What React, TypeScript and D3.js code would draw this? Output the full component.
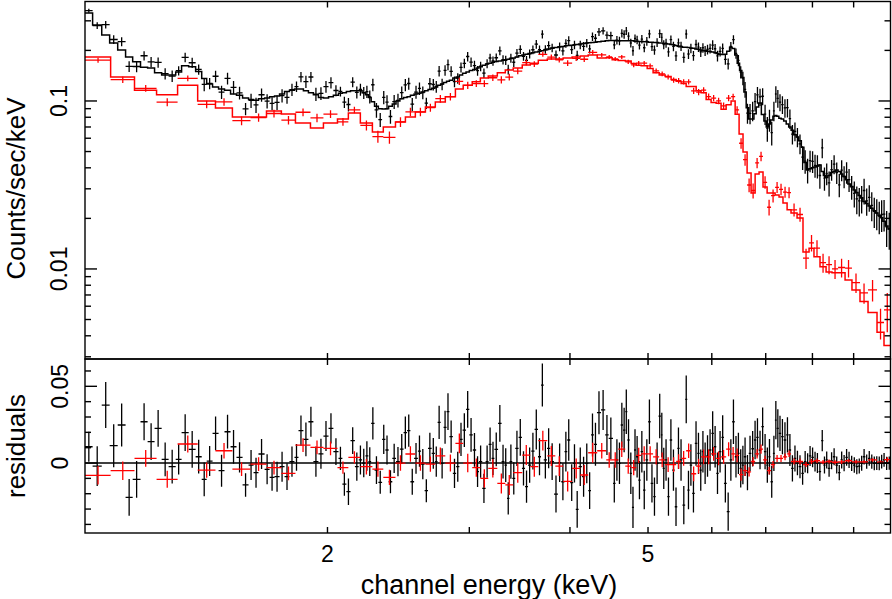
import React, { useEffect, useRef } from 'react';
import * as d3 from 'd3';

// black spectrum: channel bin edges (keV), folded model (counts/sec/keV),
// residuals (data - model) and 1-sigma errors, one value per bin
const blackEdges = [
  1.000, 1.022, 1.049, 1.073, 1.098, 1.123, 1.146, 1.172, 1.196, 1.220, 1.245, 1.270, 1.296, 1.318, 1.345, 1.372,
  1.396, 1.416, 1.440, 1.465, 1.490, 1.516, 1.542, 1.569, 1.596, 1.619, 1.642, 1.671, 1.695, 1.719, 1.744, 1.769,
  1.794, 1.820, 1.841, 1.867, 1.894, 1.921, 1.949, 1.977, 2.006, 2.034, 2.064, 2.087, 2.111, 2.136, 2.163,
  2.187, 2.208, 2.229, 2.248, 2.266, 2.288, 2.313, 2.338, 2.360, 2.382, 2.407, 2.433, 2.460, 2.486, 2.511, 2.535,
  2.562, 2.590, 2.613, 2.640, 2.666, 2.694, 2.719, 2.740, 2.764, 2.787, 2.811, 2.834, 2.862, 2.889, 2.916, 2.943,
  2.972, 3.000, 3.030, 3.059, 3.084, 3.113, 3.143, 3.170, 3.197, 3.223, 3.257, 3.290, 3.317, 3.341, 3.365, 3.392,
  3.421, 3.454, 3.487, 3.518, 3.548, 3.581, 3.615, 3.651, 3.682, 3.711, 3.746, 3.781, 3.822, 3.865, 3.902, 3.938,
  3.969, 4.003, 4.037, 4.067, 4.100, 4.139, 4.179, 4.215, 4.248, 4.284, 4.321, 4.371, 4.424, 4.468,
  4.524, 4.557, 4.592, 4.624, 4.655, 4.685, 4.713, 4.745, 4.775, 4.804, 4.831, 4.862, 4.896, 4.929, 4.964, 5.002,
  5.038, 5.075, 5.111, 5.152, 5.188, 5.214, 5.246, 5.283, 5.319, 5.357, 5.397, 5.436, 5.473, 5.517, 5.560, 5.594,
  5.632, 5.672, 5.715, 5.756, 5.795, 5.832, 5.867, 5.906, 5.948, 5.993, 6.037, 6.077, 6.120, 6.167, 6.212, 6.262,
  6.313, 6.359, 6.407, 6.452, 6.496, 6.538, 6.577, 6.620, 6.668, 6.718, 6.768, 6.812, 6.861, 6.913, 6.964, 7.010,
  7.054, 7.097, 7.145, 7.186, 7.225, 7.268, 7.315, 7.369, 7.422, 7.475, 7.527, 7.583, 7.637, 7.691, 7.750, 7.807,
  7.863, 7.918, 7.974, 8.033, 8.086, 8.143, 8.201, 8.254, 8.306, 8.360, 8.420, 8.481, 8.542, 8.608, 8.668, 8.727,
  8.789, 8.852, 8.914, 8.985, 9.049, 9.114, 9.178, 9.240, 9.306, 9.378, 9.444, 9.513, 9.581, 9.649, 9.718, 9.783,
  9.853, 9.929, 10.000,
];

const blackModel = [
  0.334, 0.283, 0.247, 0.221, 0.201, 0.183, 0.171, 0.159, 0.157, 0.147, 0.143, 0.143, 0.149, 0.162, 0.160, 0.150,
  0.136, 0.126, 0.121, 0.118, 0.116, 0.110, 0.108, 0.104, 0.102, 0.101, 0.103, 0.104, 0.106, 0.107, 0.110, 0.114,
  0.116, 0.118, 0.118, 0.115, 0.112, 0.109, 0.105, 0.104, 0.106, 0.108, 0.111, 0.112, 0.114, 0.115,
  0.115, 0.115, 0.112, 0.109, 0.105, 0.099, 0.093, 0.090, 0.0896, 0.090, 0.093, 0.096, 0.100, 0.103, 0.105, 0.106,
  0.108, 0.110, 0.111, 0.113, 0.115, 0.117, 0.119, 0.121, 0.124, 0.126, 0.129, 0.131, 0.133, 0.137, 0.139, 0.143,
  0.146, 0.149, 0.152, 0.154, 0.157, 0.160, 0.163, 0.166, 0.168, 0.170, 0.172, 0.173, 0.175, 0.176, 0.177, 0.179,
  0.180, 0.183, 0.186, 0.188, 0.190, 0.192, 0.194, 0.196, 0.198, 0.199, 0.201, 0.204, 0.206, 0.208, 0.210, 0.211,
  0.213, 0.214, 0.215, 0.216, 0.217, 0.218, 0.220, 0.221, 0.222, 0.223, 0.224, 0.225, 0.227, 0.228,
  0.229, 0.229, 0.228, 0.228, 0.228, 0.228, 0.228, 0.228, 0.228, 0.228, 0.227, 0.227, 0.226, 0.226, 0.225, 0.225,
  0.224, 0.224, 0.223, 0.223, 0.221, 0.221, 0.220, 0.219, 0.218, 0.217, 0.216, 0.214, 0.212, 0.210, 0.209, 0.209,
  0.208, 0.207, 0.206, 0.204, 0.203, 0.201, 0.200, 0.199, 0.198, 0.197, 0.196, 0.194, 0.192, 0.190, 0.189, 0.190,
  0.198, 0.209, 0.205, 0.188, 0.168, 0.152, 0.138, 0.113, 0.091, 0.078, 0.078, 0.084, 0.092, 0.0973, 0.083, 0.076,
  0.070, 0.073, 0.077, 0.081, 0.082, 0.081, 0.079, 0.078, 0.076, 0.073, 0.070, 0.067, 0.063, 0.061, 0.058, 0.053,
  0.043, 0.039, 0.0395, 0.040, 0.0405, 0.041, 0.0416, 0.038, 0.036, 0.035, 0.036, 0.0375, 0.038, 0.0388, 0.038, 0.0368,
  0.0355, 0.034, 0.032, 0.031, 0.0295, 0.0285, 0.0274, 0.0265, 0.0252, 0.0245, 0.0237, 0.0230, 0.0222, 0.0215, 0.0208, 0.0202,
  0.0192, 0.0180, 0.0173,
];

const blackResid = [
  0.0106, -0.002, 0.0378, 0.0113, 0.0248, -0.0224, -0.0106, 0.0269, 0.0139, 0.0226, 0.0024, -0.0024, 0.0024, 0.0198, 0.0089, 0.0041,
  -0.0106, 0.0013, 0.0193, -0.005, 0.0204, 0.0106, 0.0037, -0.0143, -0.0013, -0.0063, 0.0059, -0.0041, -0.0093, -0.0089, -0.0024, -0.0089,
  0.0009, 0.0037, 0.0211, 0.0154, 0.0269, 0.0009, 0.006, 0.0176, 0.0226, 0.0074, 0.003, -0.0137, -0.0187, 0.0146,
  -0.0024, 0.002, 0, 0.0046, 0.0009, 0.0259, -0.0046, -0.0126, 0.0154, 0.0085, -0.0122, 0.003, 0.0009, 0.0091, 0.0198, 0.0211,
  -0.0122, 0.003, 0.0078, -0.0007, -0.018, 0.0096, 0.0063, 0.0009, 0.0265, -0.0002, 0.0233, 0.0335, 0.0172, -0.0067, -0.0024, 0.0154,
  0.0215, 0.035, 0.0183, 0.0085, -0.0056, 0.0009, -0.0165, 0.0009, 0.0122, 0.003, 0.0089, 0.0259, 0.0009, -0.0013, -0.023, 0.0009,
  -0.01, 0.0096, 0.0167, -0.0035, -0.0154, -0.0013, 0.0078, 0.0219, 0.0041, 0.0508, 0.002, 0.0096, 0.0009, -0.0202, 0.0002, -0.0122,
  0.0074, 0.015, -0.0128, -0.0002, -0.0302, -0.0024, -0.0089, -0.0002, -0.018, 0.0183, 0.0122, 0.0328, 0.0346, 0.0183,
  0.0161, -0.0133, 0.002, -0.0002, 0.0248, 0.0215, 0.0335, 0.015, -0.0067, -0.0289, 0.0085, 0.0041, -0.0111, 0.0074, -0.0176, 0.002,
  0.0269, -0.0133, -0.0219, -0.0002, 0.0306, 0.0183, -0.0035, 0.002, -0.0219, 0.015, -0.0046, -0.0285, 0.0096, 0.002, -0.0274, 0.0415,
  -0.0176, -0.0013, -0.0198, 0.0128, 0.0063, -0.0046, 0.0074, -0.0002, 0.0046, 0.0085, 0.0193, 0.0106, -0.0067, 0.0074, 0.0167, -0.0133,
  -0.0317, 0.002, 0.0269, 0.0041, 0.0063, -0.0035, -0.0013, 0.0041, -0.0063, 0.0063, 0.0093, 0.015, 0.0167, 0.0085, 0.0237, 0.0074,
  -0.0013, 0.0041, -0.0122, 0.0063, 0.028, 0.0226, 0.0193, 0.0172, 0.015, 0.0183, 0.0085, -0.0035, 0.003, 0, -0.0024, -0.0067,
  0.0009, -0.0002, 0.0046, 0.0037, 0.0009, 0, -0.0056, 0.0146, -0.0013, 0.002, -0.0035, 0.0015, 0.0041, -0.0013, -0.0063, 0.002,
  0, 0.0037, 0.002, -0.0002, -0.0013, -0.0024, -0.002, -0.0002, 0.0041, 0.0009, 0.003, 0.0009, -0.0002, 0, -0.0002, 0.0009,
  0.002, -0.0002, 0,
];

const blackErr = [
  0.0098, 0.013, 0.015, 0.014, 0.014, 0.012, 0.012, 0.012, 0.012, 0.012, 0.011, 0.011, 0.0098, 0.012, 0.012, 0.011,
  0.011, 0.0098, 0.011, 0.0104, 0.011, 0.011, 0.0098, 0.0076, 0.0098, 0.0098, 0.0098, 0.0098, 0.0087, 0.0098, 0.0098, 0.0087,
  0.0098, 0.0087, 0.0098, 0.011, 0.0098, 0.0098, 0.0098, 0.0098, 0.0098, 0.0087, 0.0076, 0.0076, 0.0087, 0.0087,
  0.0092, 0.0095, 0.0093, 0.0096, 0.0094, 0.0105, 0.009, 0.0075, 0.0095, 0.0095, 0.0075, 0.0095, 0.0095, 0.0098, 0.0105, 0.0105,
  0.0085, 0.01, 0.0102, 0.0098, 0.0075, 0.0102, 0.01, 0.0098, 0.0108, 0.0098, 0.0108, 0.012, 0.0105, 0.0095, 0.0098, 0.0108,
  0.011, 0.012, 0.011, 0.011, 0.01, 0.0105, 0.0095, 0.0105, 0.011, 0.0108, 0.011, 0.012, 0.011, 0.011, 0.0105, 0.0112,
  0.0105, 0.0115, 0.012, 0.0112, 0.0105, 0.0115, 0.012, 0.013, 0.012, 0.014, 0.012, 0.013, 0.012, 0.012, 0.0125, 0.012,
  0.013, 0.0135, 0.012, 0.0125, 0.012, 0.0125, 0.013, 0.013, 0.012, 0.014, 0.014, 0.014, 0.013, 0.013,
  0.0135, 0.0125, 0.0135, 0.0135, 0.0145, 0.0145, 0.0145, 0.0135, 0.0135, 0.0135, 0.0135, 0.0135, 0.0125, 0.0135, 0.0125, 0.0135,
  0.0145, 0.0125, 0.0125, 0.0135, 0.0145, 0.0145, 0.0135, 0.0135, 0.0125, 0.0135, 0.0135, 0.0125, 0.0135, 0.0135, 0.0125, 0.0155,
  0.0125, 0.0135, 0.0125, 0.0145, 0.0135, 0.0135, 0.0135, 0.0135, 0.0135, 0.0135, 0.0145, 0.0135, 0.0135, 0.0135, 0.0145, 0.0125,
  0.0125, 0.0135, 0.0145, 0.0135, 0.0135, 0.0125, 0.0125, 0.0125, 0.0115, 0.0115, 0.0115, 0.0125, 0.0125, 0.0125, 0.0125, 0.0115,
  0.0115, 0.0115, 0.0105, 0.0115, 0.0125, 0.0125, 0.0115, 0.0115, 0.0115, 0.0115, 0.0105, 0.0085, 0.0085, 0.008, 0.0075, 0.0075,
  0.007, 0.0065, 0.0065, 0.0065, 0.0065, 0.0065, 0.006, 0.007, 0.0055, 0.0055, 0.0055, 0.0055, 0.0055, 0.0055, 0.005, 0.0055,
  0.0053, 0.0055, 0.0053, 0.005, 0.005, 0.0049, 0.0049, 0.0049, 0.0051, 0.0047, 0.0048, 0.0047, 0.0045, 0.0045, 0.0045, 0.0045,
  0.0045, 0.0043, 0.0043,
];

// red spectrum, same layout
const redEdges = [
  1.000, 1.076, 1.152, 1.227, 1.303, 1.380, 1.452, 1.524, 1.605, 1.680, 1.753, 1.825, 1.905, 1.977, 2.058, 2.123,
  2.197, 2.274, 2.346, 2.429, 2.499, 2.571, 2.646, 2.722, 2.801, 2.883, 2.948, 3.025, 3.096, 3.167, 3.250, 3.325,
  3.401, 3.490, 3.571, 3.654, 3.749, 3.836, 3.923, 4.025, 4.119, 4.214, 4.324,
  4.437, 4.513, 4.592, 4.685, 4.765, 4.834, 4.903, 4.988, 5.073, 5.162, 5.251, 5.341, 5.419, 5.496, 5.576, 5.655,
  5.738, 5.819, 5.904, 5.988, 6.075, 6.161, 6.251, 6.340, 6.414, 6.487, 6.560, 6.637, 6.713, 6.791, 6.868, 6.946,
  7.028, 7.107, 7.190, 7.272, 7.354, 7.441, 7.525, 7.656, 7.787, 7.923, 8.035, 8.175, 8.318, 8.460, 8.608, 8.782,
  8.957, 9.165, 9.378, 9.622, 9.816, 10.000,
];

const redModel = [
  0.183, 0.139, 0.116, 0.109, 0.124, 0.100, 0.0908, 0.0803, 0.0803, 0.0872, 0.0837, 0.0740, 0.0691, 0.0740, 0.0781, 0.0848,
  0.0740, 0.0654, 0.0700, 0.0750, 0.0803, 0.0860, 0.0921, 0.0986, 0.106, 0.118, 0.124, 0.130, 0.137, 0.141, 0.147, 0.153,
  0.157, 0.164, 0.168, 0.175, 0.178, 0.178, 0.180, 0.183, 0.185, 0.188,
  0.180, 0.181, 0.176, 0.174, 0.173, 0.167, 0.163, 0.162, 0.156, 0.147, 0.143, 0.140, 0.134, 0.131, 0.127, 0.122,
  0.122, 0.115, 0.112, 0.102, 0.098, 0.097, 0.0894, 0.095, 0.100, 0.0834, 0.0636, 0.0497, 0.0373, 0.0283, 0.0368, 0.0378,
  0.0308, 0.0283, 0.0283, 0.0276, 0.0268, 0.0247, 0.0225, 0.0215, 0.0201, 0.0126, 0.0133, 0.0118, 0.0103, 0.0096, 0.0095, 0.0095,
  0.0086, 0.0075, 0.0064, 0.0055, 0.0042, 0.0035,
];

const redResid = [
  -0.008, -0.005, 0.003, -0.0106, 0.0124, -0.0046, 0.008, -0.004, -0.0007, -0.003, -0.0067, 0.0117, 0.0102, 0.0096, -0.003, 0.0037,
  -0.0024, -0.004, -0.0093, 0, 0.0059, 0, -0.0007, 0.0046, 0, 0.0128, 0, -0.003, -0.010, -0.0035, -0.0133, -0.0143,
  -0.0063, 0.0052, -0.0024, 0.0146, 0.0046, -0.002, -0.012, -0.0035, -0.0078, 0.0067,
  0.008, 0.002, 0.002, 0.009, -0.002, -0.003, 0.005, 0.006, 0.006, 0.004, 0.002, -0.001, -0.001, 0.001, 0.003, 0.008,
  -0.007, -0.002, 0.004, 0.004, 0.006, 0.003, 0.004, 0.009, 0.006, 0.005, -0.0076, -0.005, -0.0057, 0.001, 0.006, 0.009,
  0.002, -0.005, -0.001, 0.003, 0.003, 0.004, 0.006, 0.001, 0.001, -0.001, 0.001, 0.0015, 0.0006, 0.001, 0.0005, 0.0007,
  0.0015, 0.0008, 0.0008, 0.002, 0.0006, 0.0022,
];

const redErr = [
  0.006, 0.006, 0.0055, 0.0055, 0.0055, 0.005, 0.005, 0.0045, 0.0045, 0.0045, 0.0045, 0.0045, 0.0045, 0.0045, 0.004, 0.004,
  0.005, 0.005, 0.005, 0.005, 0.005, 0.005, 0.005, 0.0055, 0.0055, 0.0065, 0.006, 0.006, 0.006, 0.006, 0.0065, 0.0065,
  0.0065, 0.0065, 0.0065, 0.0065, 0.0065, 0.0065, 0.0065, 0.0065, 0.0065, 0.0065,
  0.005, 0.005, 0.005, 0.005, 0.005, 0.005, 0.005, 0.005, 0.005, 0.005, 0.0048, 0.0048, 0.0048, 0.0048, 0.0048, 0.0048,
  0.0048, 0.0048, 0.0048, 0.0048, 0.0045, 0.0045, 0.0045, 0.0045, 0.0045, 0.0045, 0.004, 0.0035, 0.003, 0.003, 0.003, 0.003,
  0.0028, 0.0025, 0.0024, 0.0023, 0.0023, 0.0022, 0.0021, 0.002, 0.002, 0.0016, 0.0016, 0.0015, 0.0014, 0.0013, 0.0013, 0.0013,
  0.0012, 0.0011, 0.001, 0.0011, 0.001, 0.0015,
];

const xTickLabels = [2, 5];
const yTickLabels = [0.01, 0.1];
const residTickLabels = [0, 0.05];

const width = 892;
const height = 599;
const frame = { left: 85, right: 890.5, top: 1.5, split: 359, bottom: 533 };
const font = "'Liberation Sans', Arial, Helvetica, sans-serif";

const toBins = (edges, model, resid, err) =>
  model.map((m, i) => ({
    lo: edges[i],
    hi: edges[i + 1],
    mid: (edges[i] + edges[i + 1]) / 2,
    model: m,
    resid: resid[i],
    data: m + resid[i],
    err: err[i],
  }));

const SpectrumPlot = () => {

  const chartRef = useRef(null);

  const xScale = d3.scaleLog().domain([1, 10]).range([frame.left, frame.right]);
  const yScale = d3.scaleLog().domain([0.00291, 0.391]).range([frame.split, frame.top]);
  const rScale = d3.scaleLinear().domain([-0.0456, 0.0678]).range([frame.bottom, frame.split]);

  const series = [
    { color: '#000000', bins: toBins(blackEdges, blackModel, blackResid, blackErr) },
    { color: '#ff0000', bins: toBins(redEdges, redModel, redResid, redErr) },
  ];

  useEffect(() => {
    document.body.style.margin = '0';
    const svg = d3.select(chartRef.current);
    svg.selectAll('*').remove();
    plotChart(svg);
    plotAxis(svg);
  });

  const crosses = (bins, yOf, value, low, high) =>
    bins.map(b =>
      `M${xScale(b.lo)},${yOf(value(b))}H${xScale(b.hi)}` +
      `M${xScale(b.mid)},${yOf(low(b))}V${yOf(high(b))}`
    ).join('');

  const plotChart = (svg) => {
    const defs = svg.append('defs');
    defs.append('clipPath').attr('id', 'clip-top')
      .append('rect')
      .attr('x', frame.left).attr('y', frame.top)
      .attr('width', frame.right - frame.left).attr('height', frame.split - frame.top);
    defs.append('clipPath').attr('id', 'clip-res')
      .append('rect')
      .attr('x', frame.left).attr('y', frame.split)
      .attr('width', frame.right - frame.left).attr('height', frame.bottom - frame.split);

    const top = svg.append('g').attr('clip-path', 'url(#clip-top)');
    const res = svg.append('g').attr('clip-path', 'url(#clip-res)');

    const modelLine = d3.line()
      .x(d => xScale(d[0]))
      .y(d => yScale(d[1]));

    series.forEach(({ color, bins }) => {
      top.append('path')
        .attr('d', crosses(bins, yScale, b => b.data, b => Math.max(b.data - b.err, 1e-4), b => b.data + b.err))
        .attr('fill', 'none')
        .attr('stroke', color)
        .attr('stroke-width', 1.3);

      top.append('path')
        .attr('d', modelLine(bins.flatMap(b => [[b.lo, b.model], [b.hi, b.model]])))
        .attr('fill', 'none')
        .attr('stroke', color)
        .attr('stroke-width', 1.5)
        .attr('stroke-linejoin', 'miter');
    });

    res.append('line')
      .attr('x1', frame.left).attr('x2', frame.right)
      .attr('y1', rScale(0)).attr('y2', rScale(0))
      .attr('stroke', '#000000')
      .attr('stroke-width', 1.5);

    series.forEach(({ color, bins }) => {
      res.append('path')
        .attr('d', crosses(bins, rScale, b => b.resid, b => b.resid - b.err, b => b.resid + b.err))
        .attr('fill', 'none')
        .attr('stroke', color)
        .attr('stroke-width', 1.3);
    });
  };

  const plotAxis = (svg) => {
    const g = svg.append('g').attr('stroke', '#000000').attr('stroke-width', 1.4).attr('fill', 'none');

    [[frame.top, frame.split], [frame.split, frame.bottom]].forEach(([y0, y1]) => {
      g.append('rect')
        .attr('x', frame.left).attr('y', y0)
        .attr('width', frame.right - frame.left).attr('height', y1 - y0);
    });

    const isDecade = t => Math.abs(Math.log10(t) - Math.round(Math.log10(t))) < 1e-6;

    // x ticks: inward on every horizontal edge
    xScale.ticks().filter(t => t > 1 && t < 10).forEach(t => {
      const x = xScale(t);
      [[frame.top, 6], [frame.split, -6], [frame.split, 6], [frame.bottom, -6]].forEach(([y, len]) => {
        g.append('line').attr('x1', x).attr('x2', x).attr('y1', y).attr('y2', y + len);
      });
    });

    // log y ticks of the spectrum panel
    yScale.ticks().forEach(t => {
      const y = yScale(t);
      if (y < frame.top + 1 || y > frame.split - 1) return;
      const len = isDecade(t) ? 12 : 6;
      g.append('line').attr('x1', frame.left).attr('x2', frame.left + len).attr('y1', y).attr('y2', y);
      g.append('line').attr('x1', frame.right).attr('x2', frame.right - len).attr('y1', y).attr('y2', y);
    });

    // residual panel ticks
    rScale.ticks(10).forEach(t => {
      const y = rScale(t);
      const major = Math.abs(t / 0.05 - Math.round(t / 0.05)) < 1e-6;
      const len = major ? 12 : 6;
      g.append('line').attr('x1', frame.left).attr('x2', frame.left + len).attr('y1', y).attr('y2', y);
      g.append('line').attr('x1', frame.right).attr('x2', frame.right - len).attr('y1', y).attr('y2', y);
    });

    const text = svg.append('g').attr('font-family', font).attr('fill', '#000000');

    text.selectAll('.xlab')
      .data(xTickLabels)
      .join('text')
      .attr('x', d => xScale(d))
      .attr('y', 562)
      .attr('text-anchor', 'middle')
      .attr('font-size', 23)
      .text(d => String(d));

    const rotated = (value, bx, cy, size) =>
      text.append('text')
        .attr('transform', `translate(${bx},${cy}) rotate(-90)`)
        .attr('text-anchor', 'middle')
        .attr('font-size', size)
        .text(value);

    yTickLabels.forEach(v => rotated(String(v), 67, yScale(v), 23));
    residTickLabels.forEach(v => rotated(String(v), 68, rScale(v), 23));

    rotated('Counts/sec/keV', 25, 188.5, 26);
    rotated('residuals', 25, 446, 26);

    text.append('text')
      .attr('x', 489)
      .attr('y', 594)
      .attr('text-anchor', 'middle')
      .attr('font-size', 27)
      .text('channel energy (keV)');
  };

  return (
    <svg
      viewBox={`0 0 ${width} ${height}`}
      width={width}
      height={height}
      style={{ display: 'block', background: '#ffffff' }}
      ref={chartRef}
    />
  );
};

export default function App() {
  return <SpectrumPlot />;
}
